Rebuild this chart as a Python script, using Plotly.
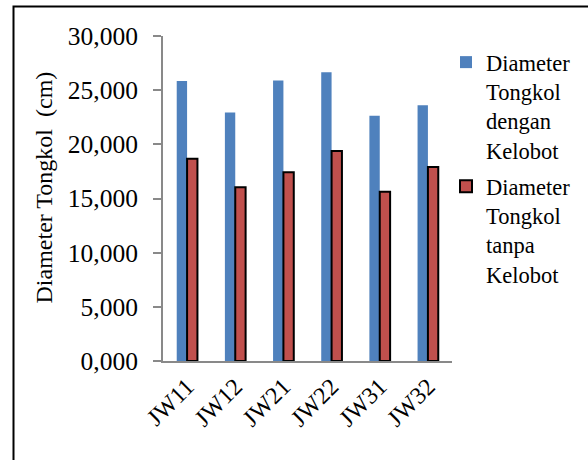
import plotly.graph_objects as go

# Sample names and mean cob diameters (cm)
categories = ["JW11", "JW12", "JW21", "JW22", "JW31", "JW32"]
dengan_kelobot = [25.85, 22.95, 25.90, 26.65, 22.65, 23.60]
tanpa_kelobot = [18.67, 16.03, 17.42, 19.38, 15.63, 17.90]
series_names = ["Diameter<br>Tongkol<br>dengan<br>Kelobot",
                "Diameter<br>Tongkol<br>tanpa<br>Kelobot"]
y_title = "Diameter Tongkol  (cm)"

W, H = 588, 460
FONT = "Liberation Serif, Times New Roman, serif"

fig = go.Figure()
fig.add_trace(go.Bar(
    x=categories, y=dengan_kelobot, name=series_names[0], legendgroup="a",
    marker=dict(color="#4F81BD", line=dict(width=0)),
))
fig.add_trace(go.Bar(
    x=categories, y=tanpa_kelobot, name=series_names[1], legendgroup="b",
    marker=dict(color="#C0504D", line=dict(color="black", width=2)),
))

ml, mr, mt, mb = 163, 136, 36, 99
pw, ph = W - ml - mr, H - mt - mb


def px_x(x):
    return (x - ml) / pw


def px_y(y):
    return (H - mb - y) / ph


fig.update_layout(
    width=W, height=H,
    margin=dict(l=ml, r=mr, t=mt, b=mb, autoexpand=False),
    paper_bgcolor="white", plot_bgcolor="white",
    barmode="group", bargap=0.57, bargroupgap=0,
    separators=",.",
    font=dict(family=FONT, color="black", size=22),
    showlegend=True,
    legend=dict(
        x=px_x(446), xanchor="left", y=px_y(41), yanchor="top",
        font=dict(family=FONT, size=22.5, color="black"),
        tracegroupgap=4, itemwidth=30, valign="top",
        bgcolor="rgba(0,0,0,0)",
    ),
    xaxis=dict(
        showline=True, linecolor="#898989", linewidth=2,
        ticks="", tickangle=-45,
        tickfont=dict(family=FONT, size=24, color="black"),
        showgrid=False, zeroline=False,
    ),
    yaxis=dict(
        range=[0, 30], dtick=5, tick0=0, tickformat=".3f",
        showline=True, linecolor="#898989", linewidth=2,
        ticks="outside", ticklen=8, tickcolor="#898989", tickwidth=2,
        ticklabelstandoff=10,
        tickfont=dict(family=FONT, size=25.5, color="black"),
        showgrid=False, zeroline=False,
    ),
)

# Vertical axis title
fig.add_annotation(
    text=y_title, textangle=-90, showarrow=False,
    xref="paper", yref="paper", x=px_x(43), y=px_y(187.5),
    xanchor="center", yanchor="middle",
    font=dict(family=FONT, size=24, color="black"),
)

# Frame around the chart
fig.add_shape(
    type="rect", xref="paper", yref="paper",
    x0=px_x(13.5), x1=px_x(W + 5),
    y0=px_y(H + 5), y1=px_y(6.5),
    line=dict(color="black", width=2), fillcolor="rgba(0,0,0,0)",
    layer="below",
)

fig.write_html("out.html")
